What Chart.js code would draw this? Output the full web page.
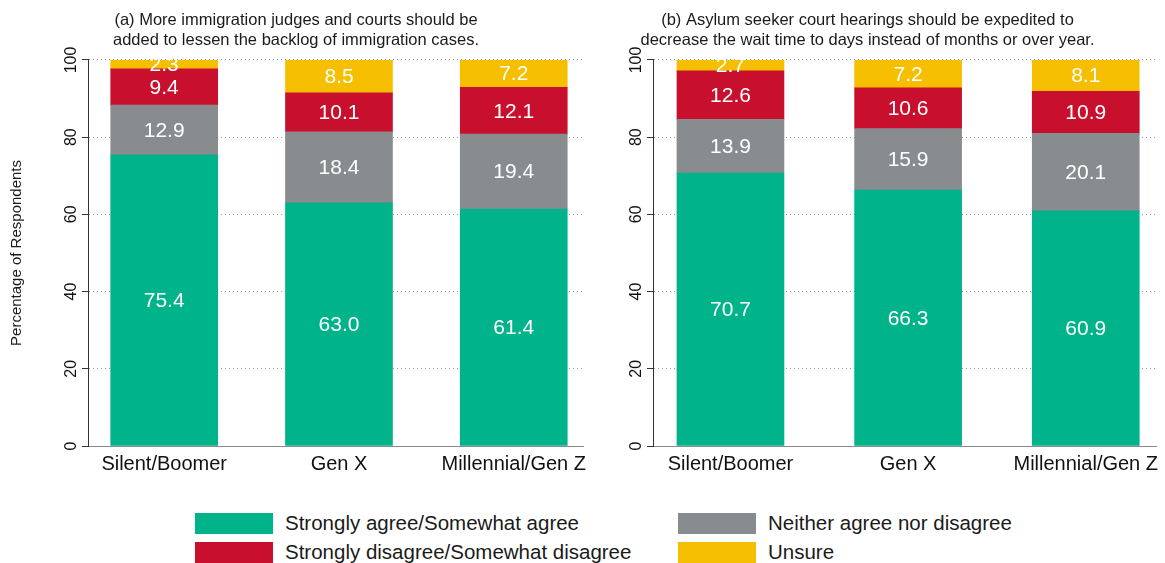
<!DOCTYPE html>
<html>
<head>
<meta charset="utf-8">
<script src="https://cdn.jsdelivr.net/npm/chart.js@4"></script>
<style>
  body { margin: 0; background: #fff; font-family: "Liberation Sans", Arial, sans-serif; }
  #wrap { position: relative; width: 1165px; height: 563px; overflow: hidden; }
  canvas { position: absolute; top: 0; }
  #chartA { left: 0; }
  #chartB { left: 577px; }
  .leg { position: absolute; display: flex; align-items: center; font-size: 20.5px; color: #1a1a1a; white-space: nowrap; }
  .leg span.box { display: inline-block; width: 78px; height: 21px; margin-right: 12px; }
</style>
</head>
<body>
<div id="wrap">
  <canvas id="chartA" width="592" height="490"></canvas>
  <canvas id="chartB" width="588" height="490"></canvas>
  <div id="legend"></div>
</div>
<script>
const categories = ["Silent/Boomer", "Gen X", "Millennial/Gen Z"];
const seriesNames = [
  "Strongly agree/Somewhat agree",
  "Neither agree nor disagree",
  "Strongly disagree/Somewhat disagree",
  "Unsure"
];
const seriesColors = ["#00B38A", "#898C8E", "#C8102E", "#F5BF00"];
const yTicks = [0, 20, 40, 60, 80, 100];

const titleA = ["(a) More immigration judges and courts should be", "added to lessen the backlog of immigration cases."];
const agreeA = [75.4, 63.0, 61.4];
const neitherA = [12.9, 18.4, 19.4];
const disagreeA = [9.4, 10.1, 12.1];
const unsureA = [2.3, 8.5, 7.2];

const titleB = ["(b) Asylum seeker court hearings should be expedited to", "decrease the wait time to days instead of months or over year."];
const agreeB = [70.7, 66.3, 60.9];
const neitherB = [13.9, 15.9, 20.1];
const disagreeB = [12.6, 10.6, 10.9];
const unsureB = [2.7, 7.2, 8.1];

const FONT = "'Liberation Sans', Arial, sans-serif";

// white numbers in the middle of each segment
const segmentLabels = {
  id: "segmentLabels",
  afterDatasetsDraw(chart) {
    const ctx = chart.ctx;
    ctx.save();
    ctx.fillStyle = "#ffffff";
    ctx.font = "21px " + FONT;
    ctx.textAlign = "center";
    ctx.textBaseline = "middle";
    chart.data.datasets.forEach((ds, i) => {
      chart.getDatasetMeta(i).data.forEach((bar, j) => {
        const v = ds.data[j].y;
        ctx.fillText(v.toFixed(1), bar.x, (bar.y + bar.base) / 2 + 1);
      });
    });
    ctx.restore();
  }
};

function makeChart(id, title, series, axisWidth, padRight, showYTitle) {
  const ctx = document.getElementById(id).getContext("2d");
  return new Chart(ctx, {
    type: "bar",
    data: {
      datasets: series.map((vals, k) => ({
        label: seriesNames[k],
        data: vals.map((v, i) => ({ x: i, y: v })),
        backgroundColor: seriesColors[k],
        borderWidth: 0,
        barThickness: 107
      }))
    },
    options: {
      responsive: false,
      animation: false,
      devicePixelRatio: 1,
      layout: { padding: { left: 0, right: padRight, top: 0, bottom: 4 } },
      plugins: {
        legend: { display: false },
        tooltip: { enabled: false },
        title: {
          display: true,
          text: title,
          color: "#1a1a1a",
          font: { family: FONT, size: 16.5, weight: "normal", lineHeight: 1.18 },
          padding: { top: 11, bottom: 10 }
        }
      },
      scales: {
        x: {
          type: "linear",
          stacked: true,
          offset: false,
          min: -0.436,
          max: 2.40,
          grid: { display: false, drawTicks: false },
          border: { display: true, color: "#8a8a8a", width: 1 },
          afterBuildTicks: (scale) => { scale.ticks = categories.map((c, i) => ({ value: i })); },
          afterFit: (scale) => { scale.height = 40; },
          ticks: {
            padding: 6,
            maxRotation: 0,
            color: "#111",
            font: { family: FONT, size: 20 },
            callback: (v) => categories[v]
          }
        },
        y: {
          stacked: true,
          min: 0,
          max: 100,
          afterBuildTicks: (scale) => { scale.ticks = yTicks.map((t) => ({ value: t })); },
          afterFit: (scale) => { scale.width = axisWidth; },
          grid: { color: "#9a9a9a", lineWidth: 1, tickColor: "#333", tickLength: 6 },
          border: { display: true, color: "#333", width: 1, dash: [1, 3] },
          ticks: {
            minRotation: 90,
            maxRotation: 90,
            crossAlign: "center",
            padding: -3,
            color: "#111",
            font: { family: FONT, size: 16 }
          },
          title: {
            display: showYTitle,
            text: "Percentage of Respondents",
            color: "#1a1a1a",
            font: { family: FONT, size: 15 },
            padding: { top: 8, bottom: 0 }
          }
        }
      }
    },
    plugins: [segmentLabels]
  });
}

makeChart("chartA", titleA, [agreeA, neitherA, disagreeA, unsureA], 88, 0, true);
makeChart("chartB", titleB, [agreeB, neitherB, disagreeB, unsureB], 76, 7, false);

// shared legend under both panels: two columns, two rows
const legend = document.getElementById("legend");
const legendCols = [195, 678];
const legendRows = [511, 540];
seriesNames.forEach((name, k) => {
  const item = document.createElement("div");
  item.className = "leg";
  item.style.left = legendCols[k % 2] + "px";
  item.style.top = legendRows[Math.floor(k / 2)] + "px";
  const box = document.createElement("span");
  box.className = "box";
  box.style.background = seriesColors[k];
  item.appendChild(box);
  const txt = document.createElement("span");
  txt.textContent = name;
  item.appendChild(txt);
  legend.appendChild(item);
});
</script>
</body>
</html>
